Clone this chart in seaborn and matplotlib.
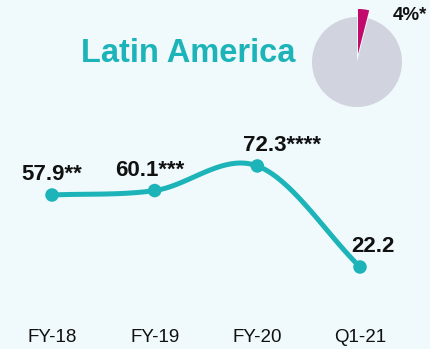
import numpy as np
import pandas as pd
import matplotlib
matplotlib.use("Agg")
import matplotlib.pyplot as plt
import seaborn as sns

# ---- data ----
periods = ["FY-18", "FY-19", "FY-20", "Q1-21"]
values = [57.9, 60.1, 72.3, 22.2]
value_labels = ["57.9**", "60.1***", "72.3****", "22.2"]
share_values = [4, 96]
share_label = "4%*"
title = "Latin America"

BG = "#F0F9FB"
TEAL = "#1DB4B9"
GREY = "#D1D4DE"
MAGENTA = "#C20A6C"

sns.set_theme(style="white")
plt.rcParams["font.family"] = ["Liberation Sans", "DejaVu Sans"]

W, H = 430, 349
fig = plt.figure(figsize=(W / 100, H / 100), dpi=100, facecolor=BG)

# main axes: bottom at 325 px
ax = fig.add_axes([0, 1 - 325 / H, 1, 325 / H])
ax.set_facecolor(BG)
for s in ax.spines.values():
    s.set_visible(False)

df = pd.DataFrame({"x": np.arange(len(periods)), "y": values})

# smooth Catmull-Rom curve through the points
pts = np.column_stack([df["x"].to_numpy(float), df["y"].to_numpy(float)])
ext = np.vstack([pts[0] - (pts[1] - pts[0]), pts, pts[-1] + (pts[-1] - pts[-2])])
curve = []
for i in range(1, len(ext) - 2):
    p0, p1, p2, p3 = ext[i - 1], ext[i], ext[i + 1], ext[i + 2]
    for t in np.linspace(0, 1, 40):
        t2, t3 = t * t, t * t * t
        c = 0.5 * ((2 * p1) + (-p0 + p2) * t + (2 * p0 - 5 * p1 + 4 * p2 - p3) * t2
                   + (-p0 + 3 * p1 - 3 * p2 + p3) * t3)
        curve.append(c)
curve = np.array(curve)
ax.plot(curve[:, 0], curve[:, 1], color=TEAL, lw=3.6, solid_capstyle="round", zorder=2)
sns.scatterplot(data=df, x="x", y="y", ax=ax, s=95, color=TEAL, edgecolor="none", zorder=3, legend=False)

# scale: points at px 52..360 horizontally
xpp = 3 / 308
ax.set_xlim(-52 * xpp, 3 + 70 * xpp)
ypp = 0.4958
ax.set_ylim(57.9 - (325 - 195) * ypp, 57.9 + 195 * ypp)
ax.set_yticks([])
ax.set_xticks(df["x"])
ax.set_xticklabels(periods, fontsize=13.5, color="#111111")
ax.tick_params(axis="x", length=0, pad=3)
ax.set_xlabel("")
ax.set_ylabel("")

dx = [0, -5, 25, 13]
for i, (xv, yv, lab) in enumerate(zip(df["x"], values, value_labels)):
    ax.annotate(lab, (xv, yv), xytext=(dx[i] * 0.72, 10.5), textcoords="offset points",
                ha="center", va="baseline", fontsize=16, fontweight="bold", color="#111111")

fig.text(188 / W, 1 - 62 / H, title, ha="center", va="baseline", fontsize=23.5,
         fontweight="bold", color=TEAL)

# pie
R = 45
cx, cy = 357, 62
size = 2.4 * R
pax = fig.add_axes([(cx - size / 2) / W, 1 - (cy + size / 2) / H, size / W, size / H])
pax.pie(share_values, colors=[MAGENTA, GREY], startangle=90, counterclock=False,
        explode=[0.18, 0], radius=1, wedgeprops=dict(linewidth=0))
pax.set_xlim(-1.2, 1.2)
pax.set_ylim(-1.2, 1.2)
pax.set_aspect("equal")
pax.axis("off")

fig.text(393 / W, 1 - 20.5 / H, share_label, ha="left", va="baseline", fontsize=13.5,
         fontweight="bold", color="#111111")

fig.savefig("out.png", dpi=100, facecolor=BG)
